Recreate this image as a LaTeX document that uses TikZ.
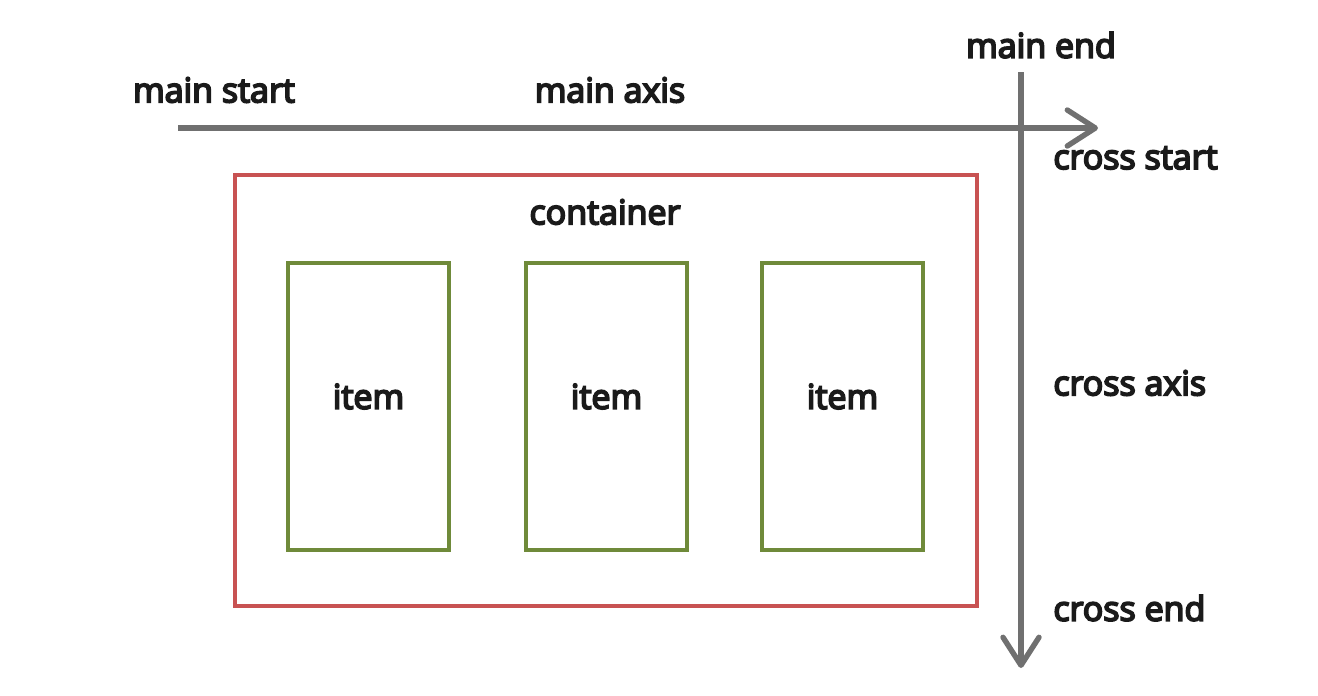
\documentclass[tikz,border=0pt]{standalone}
\usepackage{fontspec}
\setmainfont{Open Sans}
\usetikzlibrary{arrows.meta}
\definecolor{axisgray}{HTML}{707070}
\definecolor{boxred}{HTML}{C85252}
\definecolor{boxgreen}{HTML}{6F8A3A}
\definecolor{txt}{HTML}{1A1A1A}
\newcommand{\heavytext}[1]{\special{pdf:literal q 2 Tr 0.9 w}#1\special{pdf:literal Q}}
\tikzset{
  axisline/.style={draw=axisgray, line width=2.7pt, -{Straight Barb[length=14pt,width=18pt,line width=2.7pt,round]}},
  lbl/.style={text=txt, font=\fontsize{17}{20}\selectfont, inner sep=0pt},
  redbox/.style={draw=boxred, line width=2pt},
  itembox/.style={draw=boxgreen, line width=2pt, minimum width=80.5pt, minimum height=143.5pt, inner sep=0pt},
}
\begin{document}
\begin{tikzpicture}[x=0.5pt,y=-0.5pt]
\useasboundingbox (0,0) rectangle (1318,696);
% container
\node[redbox, minimum width=371pt, minimum height=215.5pt, inner sep=0pt] (cont) at (606,390.5) {};
\node[lbl] (clabel) at (605,212) {\heavytext{container}};
% items
\node[itembox] (i1) at (368.5,406.5) {};
\node[itembox] (i2) at (606.5,406.5) {};
\node[itembox] (i3) at (842.5,406.5) {};
\node[lbl] at (i1.center) [yshift=5pt] {\heavytext{item}};
\node[lbl] at (i2.center) [yshift=5pt] {\heavytext{item}};
\node[lbl] at (i3.center) [yshift=5pt] {\heavytext{item}};
% axes
\coordinate (ms) at (178,128);
\coordinate (me) at (1098,128);
\coordinate (cs) at (1021,72);
\coordinate (ce) at (1021,668);
\draw[axisline] (ms) -- (me);
\draw[axisline] (cs) -- (ce);
% labels
\node[lbl] (mstart) at (214,90) {\heavytext{main start}};
\node[lbl] (maxis) at (610,90) {\heavytext{main axis}};
\node[lbl] (mend) at (1041,45) {\heavytext{main end}};
\node[lbl, anchor=west] (cstart) at (1053,158) {\heavytext{cross start}};
\node[lbl, anchor=west] (caxis) at (1053,383) {\heavytext{cross axis}};
\node[lbl, anchor=west] (cend) at (1053,608) {\heavytext{cross end}};
\end{tikzpicture}
\end{document}
